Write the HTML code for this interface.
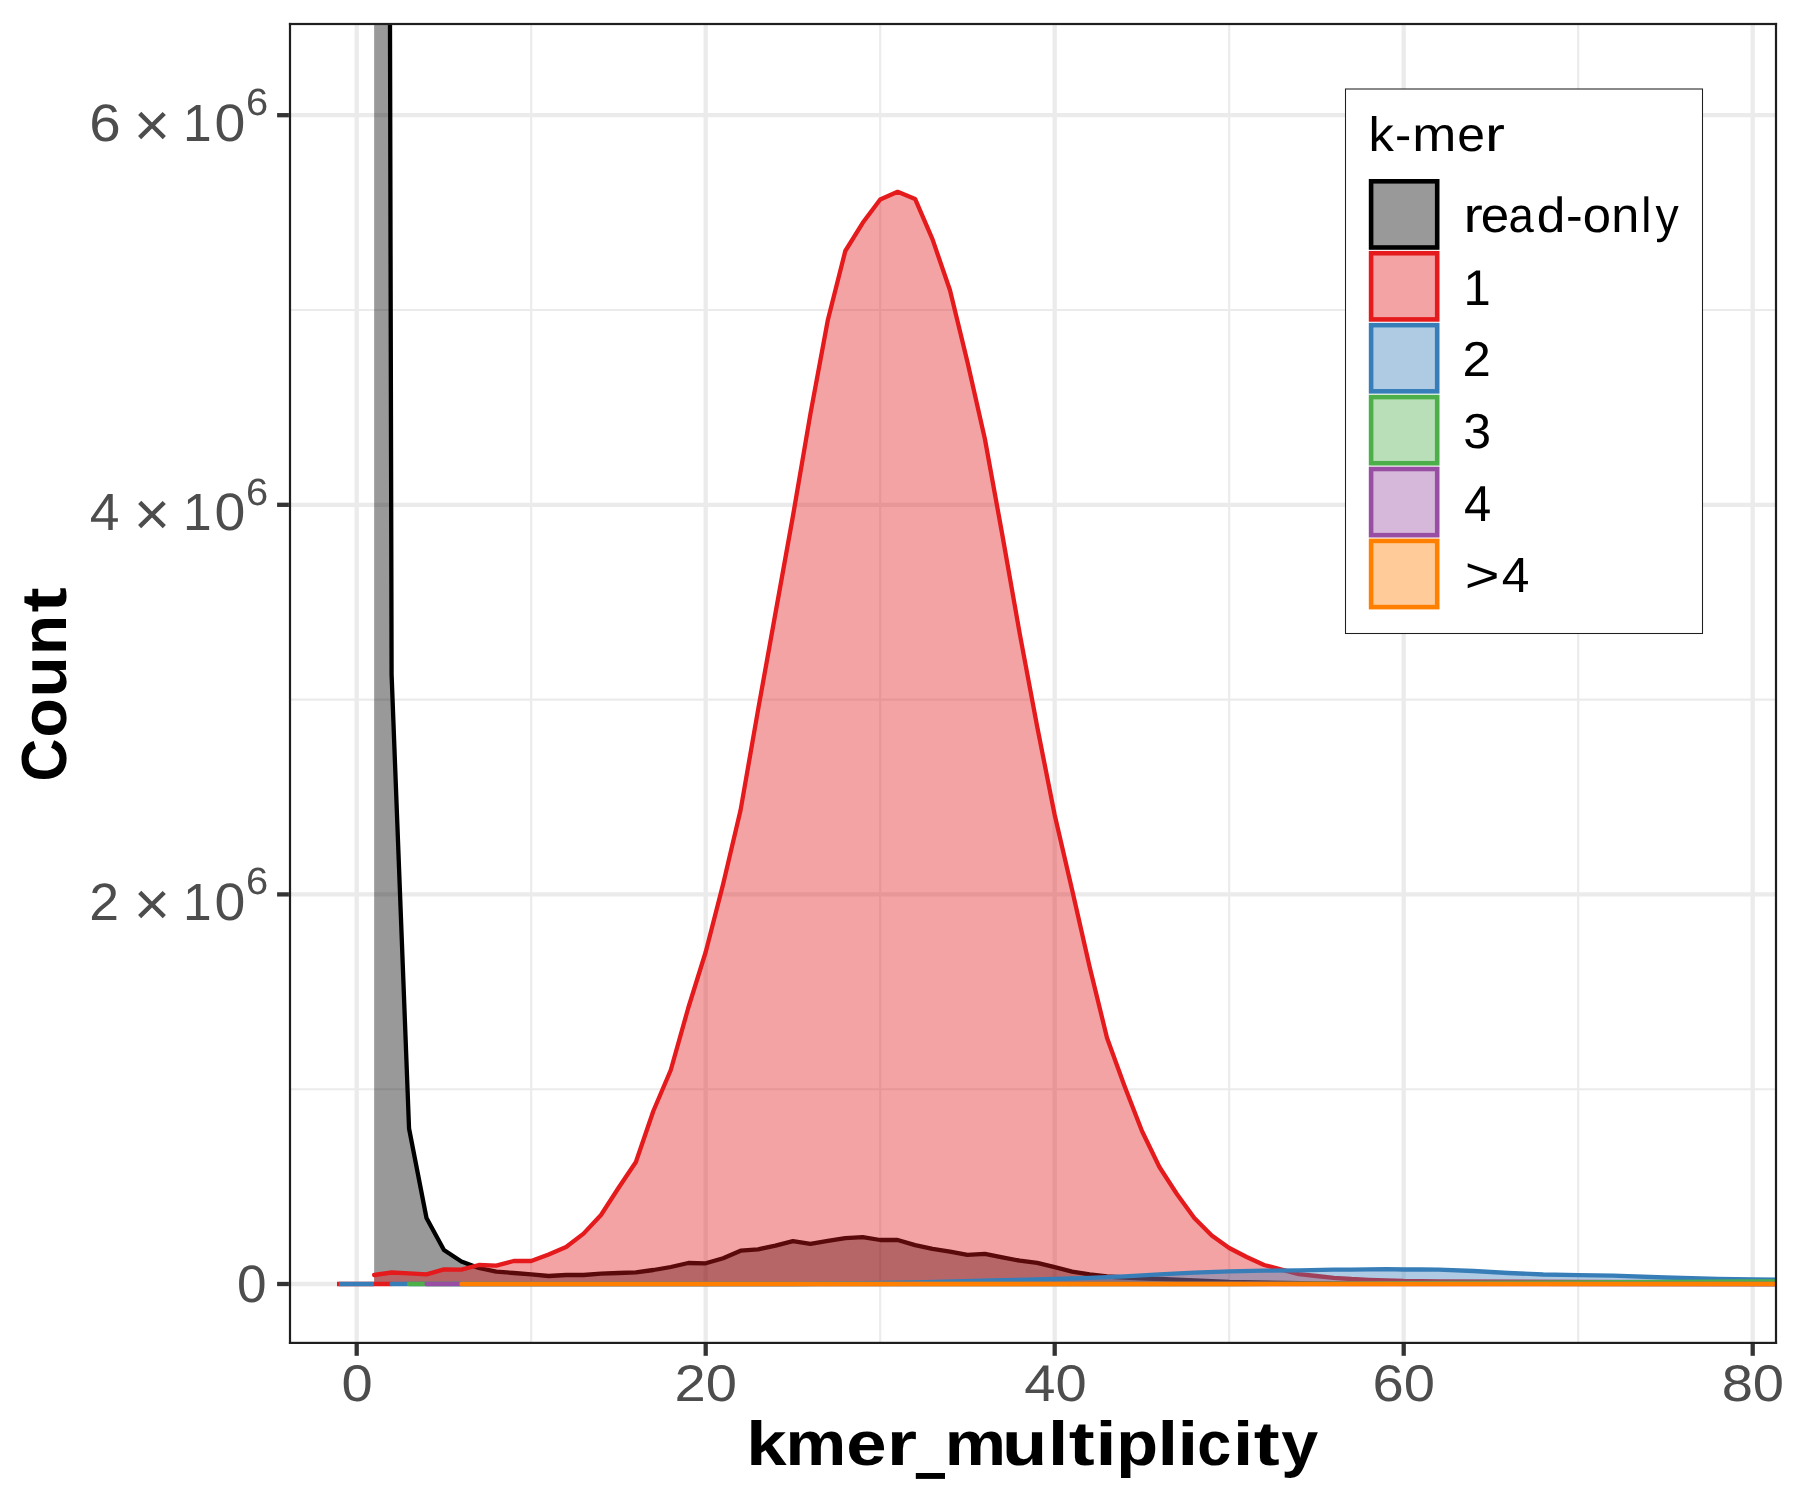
<!DOCTYPE html>
<html><head><meta charset="utf-8"><title>k-mer spectrum</title>
<style>html,body{margin:0;padding:0;background:#FFFFFF;width:1800px;height:1500px;overflow:hidden}
svg{display:block;font-family:"Liberation Sans",sans-serif;-webkit-font-smoothing:antialiased}
text{text-rendering:geometricPrecision}
svg{will-change:transform}</style></head>
<body>
<svg width="1800" height="1500" viewBox="0 0 1800 1500">
<defs><clipPath id="pc"><rect x="288.90" y="22.90" width="1488.20" height="1321.10"/></clipPath></defs>
<rect x="0" y="0" width="1800" height="1500" fill="#FFFFFF"/>
<g clip-path="url(#pc)" stroke="#EBEBEB" fill="none">
<line x1="531.20" y1="22.9" x2="531.20" y2="1344.0" stroke-width="2.15"/>
<line x1="880.20" y1="22.9" x2="880.20" y2="1344.0" stroke-width="2.15"/>
<line x1="1229.20" y1="22.9" x2="1229.20" y2="1344.0" stroke-width="2.15"/>
<line x1="1578.20" y1="22.9" x2="1578.20" y2="1344.0" stroke-width="2.15"/>
<line x1="288.9" y1="1089.20" x2="1777.1" y2="1089.20" stroke-width="2.15"/>
<line x1="288.9" y1="699.60" x2="1777.1" y2="699.60" stroke-width="2.15"/>
<line x1="288.9" y1="310.00" x2="1777.1" y2="310.00" stroke-width="2.15"/>
<line x1="356.70" y1="22.9" x2="356.70" y2="1344.0" stroke-width="4.3"/>
<line x1="705.70" y1="22.9" x2="705.70" y2="1344.0" stroke-width="4.3"/>
<line x1="1054.70" y1="22.9" x2="1054.70" y2="1344.0" stroke-width="4.3"/>
<line x1="1403.70" y1="22.9" x2="1403.70" y2="1344.0" stroke-width="4.3"/>
<line x1="1752.70" y1="22.9" x2="1752.70" y2="1344.0" stroke-width="4.3"/>
<line x1="288.9" y1="1284.00" x2="1777.1" y2="1284.00" stroke-width="4.3"/>
<line x1="288.9" y1="894.40" x2="1777.1" y2="894.40" stroke-width="4.3"/>
<line x1="288.9" y1="504.80" x2="1777.1" y2="504.80" stroke-width="4.3"/>
<line x1="288.9" y1="115.20" x2="1777.1" y2="115.20" stroke-width="4.3"/>
</g>
<g clip-path="url(#pc)">
<path d="M374.15 1284.00 L374.15 -6400.00 L391.60 674.60 L409.05 1128.50 L426.50 1218.00 L443.95 1250.00 L461.40 1261.50 L478.85 1268.00 L496.30 1271.60 L513.75 1273.00 L531.20 1274.40 L548.65 1276.00 L566.10 1275.00 L583.55 1275.00 L601.00 1273.60 L618.45 1273.00 L635.90 1272.40 L653.35 1270.00 L670.80 1267.00 L688.25 1263.00 L705.70 1263.30 L723.15 1258.20 L740.60 1250.70 L758.05 1249.30 L775.50 1245.60 L792.95 1241.10 L810.40 1243.80 L827.85 1240.90 L845.30 1238.20 L862.75 1237.10 L880.20 1240.00 L897.65 1240.00 L915.10 1245.10 L932.55 1248.90 L950.00 1251.60 L967.45 1254.90 L984.90 1253.80 L1002.35 1257.30 L1019.80 1260.70 L1037.25 1262.90 L1054.70 1267.10 L1072.15 1271.60 L1089.60 1274.40 L1107.05 1276.50 L1124.50 1277.50 L1159.40 1279.00 L1194.30 1280.50 L1229.20 1282.00 L1316.45 1283.30 L1403.70 1283.60 L1787.60 1284.00 L1787.60 1284.00 Z" fill="#000000" fill-opacity="0.4" stroke="none"/>
<path d="M374.15 -6400.00 L391.60 674.60 L409.05 1128.50 L426.50 1218.00 L443.95 1250.00 L461.40 1261.50 L478.85 1268.00 L496.30 1271.60 L513.75 1273.00 L531.20 1274.40 L548.65 1276.00 L566.10 1275.00 L583.55 1275.00 L601.00 1273.60 L618.45 1273.00 L635.90 1272.40 L653.35 1270.00 L670.80 1267.00 L688.25 1263.00 L705.70 1263.30 L723.15 1258.20 L740.60 1250.70 L758.05 1249.30 L775.50 1245.60 L792.95 1241.10 L810.40 1243.80 L827.85 1240.90 L845.30 1238.20 L862.75 1237.10 L880.20 1240.00 L897.65 1240.00 L915.10 1245.10 L932.55 1248.90 L950.00 1251.60 L967.45 1254.90 L984.90 1253.80 L1002.35 1257.30 L1019.80 1260.70 L1037.25 1262.90 L1054.70 1267.10 L1072.15 1271.60 L1089.60 1274.40 L1107.05 1276.50 L1124.50 1277.50 L1159.40 1279.00 L1194.30 1280.50 L1229.20 1282.00 L1316.45 1283.30 L1403.70 1283.60 L1787.60 1284.00" fill="none" stroke="#000000" stroke-width="4.30" stroke-linejoin="round" stroke-linecap="round"/>
<path d="M374.15 1284.00 L374.15 1275.00 L391.60 1272.50 L409.05 1273.30 L426.50 1274.40 L443.95 1269.40 L461.40 1269.60 L478.85 1265.00 L496.30 1265.60 L513.75 1261.00 L531.20 1261.00 L548.65 1254.40 L566.10 1247.00 L583.55 1233.60 L601.00 1215.00 L618.45 1188.00 L635.90 1162.00 L653.35 1111.00 L670.80 1070.00 L688.25 1008.00 L705.70 952.00 L723.15 884.00 L740.60 810.00 L758.05 710.00 L775.50 613.00 L792.95 516.00 L810.40 414.00 L827.85 320.00 L845.30 251.00 L862.75 222.80 L880.20 199.50 L897.65 191.80 L915.10 198.90 L932.55 239.40 L950.00 290.30 L967.45 362.00 L984.90 439.00 L1002.35 535.00 L1019.80 634.00 L1037.25 727.00 L1054.70 815.00 L1072.15 890.00 L1089.60 966.70 L1107.05 1038.00 L1124.50 1086.00 L1141.95 1131.00 L1159.40 1167.00 L1176.85 1194.00 L1194.30 1218.00 L1211.75 1235.60 L1229.20 1248.00 L1246.65 1257.00 L1264.10 1265.00 L1281.55 1269.60 L1299.00 1274.20 L1316.45 1276.00 L1333.90 1277.80 L1351.35 1279.00 L1368.80 1279.80 L1403.70 1281.00 L1438.60 1281.30 L1578.20 1281.90 L1787.60 1282.50 L1787.60 1284.00 Z" fill="#E41A1C" fill-opacity="0.4" stroke="none"/>
<path d="M374.15 1275.00 L391.60 1272.50 L409.05 1273.30 L426.50 1274.40 L443.95 1269.40 L461.40 1269.60 L478.85 1265.00 L496.30 1265.60 L513.75 1261.00 L531.20 1261.00 L548.65 1254.40 L566.10 1247.00 L583.55 1233.60 L601.00 1215.00 L618.45 1188.00 L635.90 1162.00 L653.35 1111.00 L670.80 1070.00 L688.25 1008.00 L705.70 952.00 L723.15 884.00 L740.60 810.00 L758.05 710.00 L775.50 613.00 L792.95 516.00 L810.40 414.00 L827.85 320.00 L845.30 251.00 L862.75 222.80 L880.20 199.50 L897.65 191.80 L915.10 198.90 L932.55 239.40 L950.00 290.30 L967.45 362.00 L984.90 439.00 L1002.35 535.00 L1019.80 634.00 L1037.25 727.00 L1054.70 815.00 L1072.15 890.00 L1089.60 966.70 L1107.05 1038.00 L1124.50 1086.00 L1141.95 1131.00 L1159.40 1167.00 L1176.85 1194.00 L1194.30 1218.00 L1211.75 1235.60 L1229.20 1248.00 L1246.65 1257.00 L1264.10 1265.00 L1281.55 1269.60 L1299.00 1274.20 L1316.45 1276.00 L1333.90 1277.80 L1351.35 1279.00 L1368.80 1279.80 L1403.70 1281.00 L1438.60 1281.30 L1578.20 1281.90 L1787.60 1282.50" fill="none" stroke="#E41A1C" stroke-width="4.30" stroke-linejoin="round" stroke-linecap="round"/>
<line x1="337" y1="1284.0" x2="391.6" y2="1284.0" stroke="#E41A1C" stroke-width="4.30"/>
<line x1="339" y1="1284.0" x2="373.8" y2="1284.0" stroke="#377EB8" stroke-width="4.30"/>
<path d="M391.60 1284.00 L391.60 1284.00 L705.70 1284.00 L792.95 1284.00 L880.20 1283.00 L915.10 1282.30 L1002.35 1280.20 L1054.70 1279.00 L1089.60 1277.90 L1124.50 1276.40 L1159.40 1274.40 L1194.30 1272.60 L1229.20 1271.30 L1264.10 1270.60 L1299.00 1270.40 L1333.90 1269.60 L1351.35 1269.60 L1368.80 1269.30 L1386.25 1269.20 L1403.70 1269.50 L1421.15 1269.50 L1438.60 1269.60 L1473.50 1271.00 L1508.40 1273.00 L1543.30 1274.50 L1578.20 1275.10 L1613.10 1275.60 L1665.45 1277.50 L1717.80 1278.80 L1752.70 1279.40 L1787.60 1279.80 L1787.60 1284.00 Z" fill="#377EB8" fill-opacity="0.4" stroke="none"/>
<path d="M391.60 1284.00 L705.70 1284.00 L792.95 1284.00 L880.20 1283.00 L915.10 1282.30 L1002.35 1280.20 L1054.70 1279.00 L1089.60 1277.90 L1124.50 1276.40 L1159.40 1274.40 L1194.30 1272.60 L1229.20 1271.30 L1264.10 1270.60 L1299.00 1270.40 L1333.90 1269.60 L1351.35 1269.60 L1368.80 1269.30 L1386.25 1269.20 L1403.70 1269.50 L1421.15 1269.50 L1438.60 1269.60 L1473.50 1271.00 L1508.40 1273.00 L1543.30 1274.50 L1578.20 1275.10 L1613.10 1275.60 L1665.45 1277.50 L1717.80 1278.80 L1752.70 1279.40 L1787.60 1279.80" fill="none" stroke="#377EB8" stroke-width="4.30" stroke-linejoin="round" stroke-linecap="round"/>
<path d="M409.05 1284.00 L409.05 1284.00 L1229.20 1284.00 L1403.70 1283.20 L1578.20 1282.40 L1752.70 1281.45 L1787.60 1281.30 L1787.60 1284.00 Z" fill="#4DAF4A" fill-opacity="0.4" stroke="none"/>
<path d="M409.05 1284.00 L1229.20 1284.00 L1403.70 1283.20 L1578.20 1282.40 L1752.70 1281.45 L1787.60 1281.30" fill="none" stroke="#4DAF4A" stroke-width="4.30" stroke-linejoin="round" stroke-linecap="round"/>
<path d="M426.50 1284.00 L426.50 1284.00 L1787.60 1284.00 L1787.60 1284.00 Z" fill="#984EA3" fill-opacity="0.4" stroke="none"/>
<path d="M426.50 1284.00 L1787.60 1284.00" fill="none" stroke="#984EA3" stroke-width="4.30" stroke-linejoin="round" stroke-linecap="round"/>
<path d="M461.40 1284.00 L461.40 1284.00 L1787.60 1284.00 L1787.60 1284.00 Z" fill="#FF7F00" fill-opacity="0.4" stroke="none"/>
<path d="M461.40 1284.00 L1787.60 1284.00" fill="none" stroke="#FF7F00" stroke-width="4.30" stroke-linejoin="round" stroke-linecap="round"/>
</g>
<g fill="#1F1F1F">
<rect x="288.9" y="22.9" width="2.2" height="1321.1"/>
<rect x="1774.9" y="22.9" width="2.2" height="1321.1"/>
<rect x="288.9" y="22.9" width="1488.2" height="2.2"/>
<rect x="288.9" y="1341.8" width="1488.2" height="2.2"/>
</g>
<g stroke="#333333" stroke-width="4.3">
<line x1="356.70" y1="1344.0" x2="356.70" y2="1355.8"/>
<line x1="705.70" y1="1344.0" x2="705.70" y2="1355.8"/>
<line x1="1054.70" y1="1344.0" x2="1054.70" y2="1355.8"/>
<line x1="1403.70" y1="1344.0" x2="1403.70" y2="1355.8"/>
<line x1="1752.70" y1="1344.0" x2="1752.70" y2="1355.8"/>
<line x1="277.1" y1="1284.00" x2="288.9" y2="1284.00"/>
<line x1="277.1" y1="894.40" x2="288.9" y2="894.40"/>
<line x1="277.1" y1="504.80" x2="288.9" y2="504.80"/>
<line x1="277.1" y1="115.20" x2="288.9" y2="115.20"/>
</g>
<g font-family="Liberation Sans, sans-serif">
<text transform="translate(341.40 1400.50) scale(1.0884 1)" font-size="51.55" font-weight="normal" fill="#4D4D4D">0</text>
<text transform="translate(674.48 1400.50) scale(1.0884 1)" font-size="51.55" font-weight="normal" fill="#4D4D4D">20</text>
<text transform="translate(1024.25 1400.50) scale(1.0884 1)" font-size="51.55" font-weight="normal" fill="#4D4D4D">40</text>
<text transform="translate(1372.46 1400.50) scale(1.0884 1)" font-size="51.55" font-weight="normal" fill="#4D4D4D">60</text>
<text transform="translate(1721.67 1400.50) scale(1.0884 1)" font-size="51.55" font-weight="normal" fill="#4D4D4D">80</text>
<text transform="translate(89.31 919.90) scale(1.0190 1)" font-size="52.56" font-weight="normal" fill="#4D4D4D">2</text>
<text transform="translate(133.68 924.75) scale(1.0157 1)" font-size="61.40" font-weight="normal" fill="#4D4D4D">×</text>
<text transform="translate(183.08 919.90) scale(0.9840 1)" font-size="52.33" font-weight="normal" fill="#4D4D4D">1</text>
<text transform="translate(214.53 919.99) scale(1.0523 1)" font-size="52.68" font-weight="normal" fill="#4D4D4D">0</text>
<text transform="translate(245.98 894.43) scale(1.0535 1)" font-size="37.85" font-weight="normal" fill="#4D4D4D">6</text>
<text transform="translate(89.77 530.30) scale(1.0174 1)" font-size="52.47" font-weight="normal" fill="#4D4D4D">4</text>
<text transform="translate(133.68 535.15) scale(1.0157 1)" font-size="61.40" font-weight="normal" fill="#4D4D4D">×</text>
<text transform="translate(183.08 530.30) scale(0.9840 1)" font-size="52.33" font-weight="normal" fill="#4D4D4D">1</text>
<text transform="translate(214.53 530.39) scale(1.0523 1)" font-size="52.68" font-weight="normal" fill="#4D4D4D">0</text>
<text transform="translate(245.98 504.83) scale(1.0535 1)" font-size="37.85" font-weight="normal" fill="#4D4D4D">6</text>
<text transform="translate(89.13 140.79) scale(1.0737 1)" font-size="52.68" font-weight="normal" fill="#4D4D4D">6</text>
<text transform="translate(133.68 145.55) scale(1.0157 1)" font-size="61.40" font-weight="normal" fill="#4D4D4D">×</text>
<text transform="translate(183.08 140.70) scale(0.9840 1)" font-size="52.33" font-weight="normal" fill="#4D4D4D">1</text>
<text transform="translate(214.53 140.79) scale(1.0523 1)" font-size="52.68" font-weight="normal" fill="#4D4D4D">0</text>
<text transform="translate(245.98 115.23) scale(1.0535 1)" font-size="37.85" font-weight="normal" fill="#4D4D4D">6</text>
<text transform="translate(237.12 1301.99) scale(1.0113 1)" font-size="52.54" font-weight="normal" fill="#4D4D4D">0</text>
</g>
<g font-family="Liberation Sans, sans-serif">
<text transform="translate(746.23 1465.00) scale(1.1698 1)" font-size="62.10" font-weight="bold" fill="#000000">k</text>
<text transform="translate(785.50 1465.00) scale(1.1000 1)" font-size="62.10" font-weight="bold" fill="#000000">m</text>
<text transform="translate(846.37 1465.00) scale(1.1671 1)" font-size="62.10" font-weight="bold" fill="#000000">e</text>
<text transform="translate(886.63 1465.00) scale(1.2536 1)" font-size="62.10" font-weight="bold" fill="#000000">r</text>
<rect x="915.80" y="1473.00" width="29.20" height="5.90" fill="#000000"/>
<text transform="translate(944.65 1465.00) scale(1.1105 1)" font-size="62.10" font-weight="bold" fill="#000000">m</text>
<text transform="translate(1002.10 1465.00) scale(1.1937 1)" font-size="62.10" font-weight="bold" fill="#000000">u</text>
<text transform="translate(1047.91 1465.00) scale(1.1736 1)" font-size="62.10" font-weight="bold" fill="#000000">l</text>
<text transform="translate(1068.64 1465.00) scale(1.2536 1)" font-size="62.10" font-weight="bold" fill="#000000">t</text>
<text transform="translate(1095.51 1465.00) scale(1.2205 1)" font-size="62.10" font-weight="bold" fill="#000000">i</text>
<text transform="translate(1116.29 1465.00) scale(1.1025 1)" font-size="62.10" font-weight="bold" fill="#000000">p</text>
<text transform="translate(1157.61 1465.00) scale(1.1971 1)" font-size="62.10" font-weight="bold" fill="#000000">l</text>
<text transform="translate(1177.61 1465.00) scale(1.1971 1)" font-size="62.10" font-weight="bold" fill="#000000">i</text>
<text transform="translate(1197.29 1465.00) scale(0.9850 1)" font-size="62.10" font-weight="bold" fill="#000000">c</text>
<text transform="translate(1232.91 1465.00) scale(1.1736 1)" font-size="62.10" font-weight="bold" fill="#000000">i</text>
<text transform="translate(1253.64 1465.00) scale(1.2536 1)" font-size="62.10" font-weight="bold" fill="#000000">t</text>
<text transform="translate(1281.18 1465.00) scale(1.0706 1)" font-size="62.10" font-weight="bold" fill="#000000">y</text>
<text transform="translate(66.20 781.39) rotate(-90) scale(0.9291 1)" font-size="63.75" font-weight="bold" fill="#000000">C</text>
<text transform="translate(66.20 737.51) rotate(-90) scale(1.0070 1)" font-size="63.75" font-weight="bold" fill="#000000">o</text>
<text transform="translate(66.20 697.47) rotate(-90) scale(1.0556 1)" font-size="63.75" font-weight="bold" fill="#000000">u</text>
<text transform="translate(66.20 655.11) rotate(-90) scale(1.0264 1)" font-size="63.75" font-weight="bold" fill="#000000">n</text>
<text transform="translate(66.20 612.55) rotate(-90) scale(1.1826 1)" font-size="63.75" font-weight="bold" fill="#000000">t</text>
</g>
<g font-family="Liberation Sans, sans-serif">
<rect x="1345.5" y="89.0" width="357.0" height="544.5" fill="#FFFFFF" stroke="#202020" stroke-width="1.05"/>
<text transform="translate(1368.58 151.00) scale(1.0523 1)" font-size="48.16" font-weight="normal" fill="#000000">k</text>
<text transform="translate(1395.03 151.00) scale(1.0120 1)" font-size="48.16" font-weight="normal" fill="#000000">-</text>
<text transform="translate(1412.28 151.00) scale(1.0993 1)" font-size="48.16" font-weight="normal" fill="#000000">m</text>
<text transform="translate(1457.28 151.00) scale(1.0354 1)" font-size="48.16" font-weight="normal" fill="#000000">e</text>
<text transform="translate(1485.00 151.00) scale(1.2421 1)" font-size="48.16" font-weight="normal" fill="#000000">r</text>
<rect x="1371.10" y="181.30" width="66.10" height="66.20" fill="#000000" fill-opacity="0.4" stroke="#000000" stroke-width="4.6"/>
<rect x="1371.10" y="253.22" width="66.10" height="66.20" fill="#E41A1C" fill-opacity="0.4" stroke="#E41A1C" stroke-width="4.6"/>
<rect x="1371.10" y="325.14" width="66.10" height="66.20" fill="#377EB8" fill-opacity="0.4" stroke="#377EB8" stroke-width="4.6"/>
<rect x="1371.10" y="397.06" width="66.10" height="66.20" fill="#4DAF4A" fill-opacity="0.4" stroke="#4DAF4A" stroke-width="4.6"/>
<rect x="1371.10" y="468.98" width="66.10" height="66.20" fill="#984EA3" fill-opacity="0.4" stroke="#984EA3" stroke-width="4.6"/>
<rect x="1371.10" y="540.90" width="66.10" height="66.20" fill="#FF7F00" fill-opacity="0.4" stroke="#FF7F00" stroke-width="4.6"/>
<text transform="translate(1463.42 232.40) scale(1.1753 1)" font-size="49.27" font-weight="normal" fill="#000000">r</text>
<text transform="translate(1480.83 232.40) scale(1.0381 1)" font-size="49.27" font-weight="normal" fill="#000000">e</text>
<text transform="translate(1508.38 232.40) scale(0.9234 1)" font-size="49.27" font-weight="normal" fill="#000000">a</text>
<text transform="translate(1536.84 232.40) scale(1.0426 1)" font-size="49.27" font-weight="normal" fill="#000000">d</text>
<text transform="translate(1565.88 232.40) scale(1.0143 1)" font-size="49.27" font-weight="normal" fill="#000000">-</text>
<text transform="translate(1582.87 232.40) scale(1.0317 1)" font-size="49.27" font-weight="normal" fill="#000000">o</text>
<text transform="translate(1611.35 232.40) scale(1.0225 1)" font-size="49.27" font-weight="normal" fill="#000000">n</text>
<text transform="translate(1641.23 232.40) scale(0.9237 1)" font-size="49.27" font-weight="normal" fill="#000000">l</text>
<text transform="translate(1655.59 232.40) scale(0.9419 1)" font-size="49.27" font-weight="normal" fill="#000000">y</text>
<text transform="translate(1464.86 591.80) scale(1.2079 1)" font-size="49.42" font-weight="normal" fill="#000000">&gt;</text>
<text transform="translate(1501.73 591.80) scale(1.0065 1)" font-size="49.42" font-weight="normal" fill="#000000">4</text>
<text transform="translate(1463.47 304.60) scale(0.9731 1)" font-size="50.29" font-weight="normal" fill="#000000">1</text>
<text transform="translate(1462.54 376.30) scale(1.0367 1)" font-size="49.12" font-weight="normal" fill="#000000">2</text>
<text transform="translate(1463.20 448.22) scale(1.0170 1)" font-size="49.15" font-weight="normal" fill="#000000">3</text>
<text transform="translate(1463.98 520.50) scale(0.9691 1)" font-size="50.58" font-weight="normal" fill="#000000">4</text>
</g>
</svg>
</body></html>
